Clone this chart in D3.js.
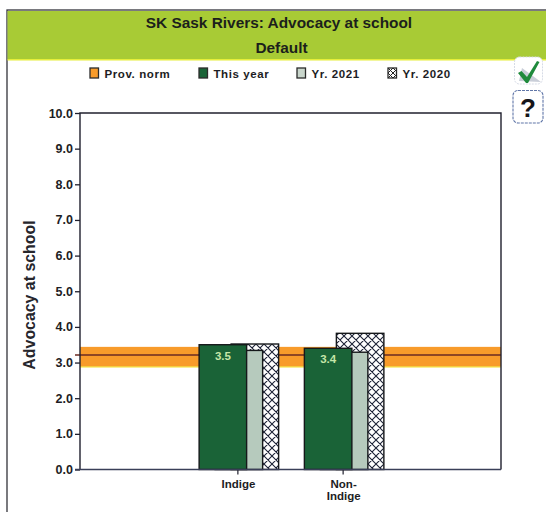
<!DOCTYPE html>
<html>
<head>
<meta charset="utf-8">
<script src="https://cdn.jsdelivr.net/npm/d3@7"></script>
<style>
  html, body { margin: 0; padding: 0; background: #fff; }
  svg { display: block; font-family: "Liberation Sans", Arial, sans-serif; }
</style>
</head>
<body>
<svg id="chart" width="546" height="512"></svg>
<script>
// Chart data
const titleLines = ["SK Sask Rivers: Advocacy at school", "Default"];
const categories = ["Indige", "Non-Indige"];
const categoryLines = [["Indige"], ["Non-", "Indige"]];
const thisYear = [3.5, 3.4];
const yr2021 = [3.34, 3.29];
const yr2020 = [3.52, 3.82];
const normLow = 2.88;
const normMean = 3.21;
const normHigh = 3.44;
const yTicks = [0, 1, 2, 3, 4, 5, 6, 7, 8, 9, 10];
const seriesNames = ["This year", "Yr. 2021", "Yr. 2020"];
const legendNames = ["Prov. norm", "This year", "Yr. 2021", "Yr. 2020"];
const yLabel = "Advocacy at school";

const ink = "#20202e";
const svg = d3.select("#chart");

// Cross-hatch fill for the oldest year
const defs = svg.append("defs");
const hatch = defs.append("pattern")
  .attr("id", "cross").attr("patternUnits", "userSpaceOnUse")
  .attr("width", 8).attr("height", 8);
hatch.append("rect").attr("width", 8).attr("height", 8).attr("fill", "#fff");
hatch.append("path").attr("d", "M-1,1L1,-1M0,8L8,0M7,9L9,7M-1,7L1,9M0,0L8,8M7,-1L9,1")
  .attr("stroke", "#1c2236").attr("stroke-width", 1.1);
const miniHatch = defs.append("pattern")
  .attr("id", "crossSmall").attr("patternUnits", "userSpaceOnUse")
  .attr("width", 5).attr("height", 5);
miniHatch.append("rect").attr("width", 5).attr("height", 5).attr("fill", "#fff");
miniHatch.append("path").attr("d", "M0,5L5,0M0,0L5,5").attr("stroke", "#222").attr("stroke-width", 1);

// Page frame and title banner
svg.append("rect").attr("x", 7).attr("y", 10).attr("width", 560).attr("height", 520)
  .attr("fill", "#fff").attr("stroke", "#33333a").attr("stroke-width", 1.3);
svg.append("rect").attr("x", 7.5).attr("y", 11).attr("width", 539).attr("height", 48).attr("fill", "#a8cb35");
svg.append("rect").attr("x", 7.5).attr("y", 59).attr("width", 539).attr("height", 1.5).attr("fill", "#e6ee3a");

svg.selectAll("text.title").data(titleLines).join("text")
  .attr("class", "title")
  .attr("x", (d, i) => i === 0 ? 279 : 281.5)
  .attr("y", (d, i) => i === 0 ? 28 : 53)
  .attr("text-anchor", "middle")
  .attr("font-size", 15.4).attr("font-weight", "bold").attr("fill", "#1c1f1c")
  .text(d => d);

// Scales
const margin = { left: 80, right: 501, top: 113, bottom: 469.5 };
const step = (margin.right - margin.left) / 4;
const x = d3.scaleBand().domain(categories)
  .range([margin.left + step, margin.right - step]);
const y = d3.scaleLinear().domain([0, 10]).range([margin.bottom, margin.top]);
const offset = d3.scalePoint().domain(seriesNames).range([-15, 17]);
const barWidth = 47.5;
const centre = c => x(c) + x.bandwidth() / 2;

// Provincial norm band and mean line
const plotWidth = margin.right - margin.left;
svg.append("rect").attr("x", margin.left).attr("width", plotWidth)
  .attr("y", y(normHigh)).attr("height", y(normLow) - y(normHigh)).attr("fill", "#f89b2a");
svg.append("rect").attr("x", margin.left).attr("width", plotWidth)
  .attr("y", y(normLow) - 0.5).attr("height", 1.2).attr("fill", "#f4df3a");
svg.append("line").attr("x1", 75).attr("x2", margin.right)
  .attr("y1", y(normMean)).attr("y2", y(normMean))
  .attr("stroke", "#6b2a22").attr("stroke-width", 1.4);

// Bars, oldest series at the back
const seriesStyle = [
  { name: "Yr. 2020", values: yr2020, fill: "url(#cross)" },
  { name: "Yr. 2021", values: yr2021, fill: "#b6cabd" },
  { name: "This year", values: thisYear, fill: "#1a6337" }
];
seriesStyle.forEach(s => {
  svg.append("g").selectAll("rect").data(categories).join("rect")
    .attr("x", c => centre(c) + offset(s.name) - barWidth / 2)
    .attr("width", barWidth)
    .attr("y", (c, i) => y(s.values[i]))
    .attr("height", (c, i) => y(0) - y(s.values[i]))
    .attr("fill", s.fill)
    .attr("stroke", "#15181a").attr("stroke-width", 1.4);
});

// Value labels on the current-year bars
svg.append("g").selectAll("text").data(categories).join("text")
  .attr("x", c => centre(c) + offset("This year"))
  .attr("y", (c, i) => y(thisYear[i]) + 15)
  .attr("text-anchor", "middle")
  .attr("font-size", 11.5).attr("font-weight", "bold").attr("fill", "#c5e6a8")
  .text((c, i) => thisYear[i].toFixed(1));

// Plot border and axes
svg.append("path")
  .attr("d", d3.line()([[margin.left, margin.bottom], [margin.left, margin.top], [margin.right, margin.top], [margin.right, margin.bottom]]))
  .attr("fill", "none").attr("stroke", ink).attr("stroke-width", 1.4);

const yAxis = svg.append("g").attr("transform", `translate(${margin.left},0)`)
  .call(d3.axisLeft(y).tickValues(yTicks).tickSize(5).tickPadding(2).tickFormat(d3.format(".1f")));
yAxis.select(".domain").remove();
yAxis.selectAll("line").attr("stroke", ink).attr("stroke-width", 1.3);
yAxis.selectAll("text").attr("font-size", 12.5).attr("font-weight", "bold").attr("fill", "#1d1d24")
  .attr("font-family", "'Liberation Sans', Arial, sans-serif");

const xAxis = svg.append("g").attr("transform", `translate(0,${margin.bottom})`)
  .call(d3.axisBottom(x).tickSize(5).tickFormat(""));
xAxis.select(".domain").remove();
xAxis.selectAll("line").attr("stroke", ink).attr("stroke-width", 1.2);
svg.append("line").attr("x1", 75).attr("x2", margin.right)
  .attr("y1", margin.bottom).attr("y2", margin.bottom)
  .attr("stroke", "#3a3f58").attr("stroke-width", 1.5);

svg.append("g").selectAll("text").data(categories).join("text")
  .attr("text-anchor", "middle")
  .attr("font-size", 11.5).attr("font-weight", "bold").attr("fill", "#1d1d24")
  .attr("y", 487.5)
  .each(function (c, i) {
    d3.select(this).selectAll("tspan").data(categoryLines[i]).join("tspan")
      .attr("x", centre(c) + 0.5).attr("dy", (d, k) => k === 0 ? 0 : 12.5).text(d => d);
  });

svg.append("text")
  .attr("transform", "translate(35,295) rotate(-90)")
  .attr("text-anchor", "middle")
  .attr("font-size", 15.9).attr("font-weight", "bold").attr("fill", "#26262c")
  .text(yLabel);

// Legend
const legendX = [90, 199, 297, 388];
const legendFill = ["#f89b2a", "#1a6337", "#c9d6cc", "url(#crossSmall)"];
const legend = svg.append("g").selectAll("g").data(legendNames).join("g")
  .attr("transform", (d, i) => `translate(${legendX[i]},68)`);
legend.append("rect").attr("width", 8.5).attr("height", 10)
  .attr("fill", (d, i) => legendFill[i]).attr("stroke", "#2b2b2b").attr("stroke-width", 1.3);
legend.append("text").attr("x", 14.5).attr("y", 10)
  .attr("font-size", 11.5).attr("font-weight", "bold").attr("letter-spacing", 0.6)
  .attr("fill", "#1d1d24").text(d => d);

// Side buttons
const check = svg.append("g");
check.append("rect").attr("x", 514.5).attr("y", 57).attr("width", 28).attr("height", 27).attr("rx", 5)
  .attr("fill", "#fff").attr("stroke", "#d6dbe6").attr("stroke-dasharray", "2 1");
check.append("path").attr("d", "M519,81L522,68L541,82Z").attr("fill", "#c9ced8");
check.append("path").attr("d", "M518,73L521.5,71L527,77L537,61L539.5,62L528,83L526,83Z").attr("fill", "#1f8a3c");

const help = svg.append("g");
help.append("rect").attr("x", 513).attr("y", 90.5).attr("width", 30).attr("height", 32.5).attr("rx", 5)
  .attr("fill", "#fff").attr("stroke", "#6076a8").attr("stroke-width", 1.1).attr("stroke-dasharray", "3 1");
help.append("text").attr("x", 528).attr("y", 117).attr("text-anchor", "middle")
  .attr("font-size", 26).attr("font-weight", "bold").attr("fill", "#15151a").text("?");
</script>
</body>
</html>
